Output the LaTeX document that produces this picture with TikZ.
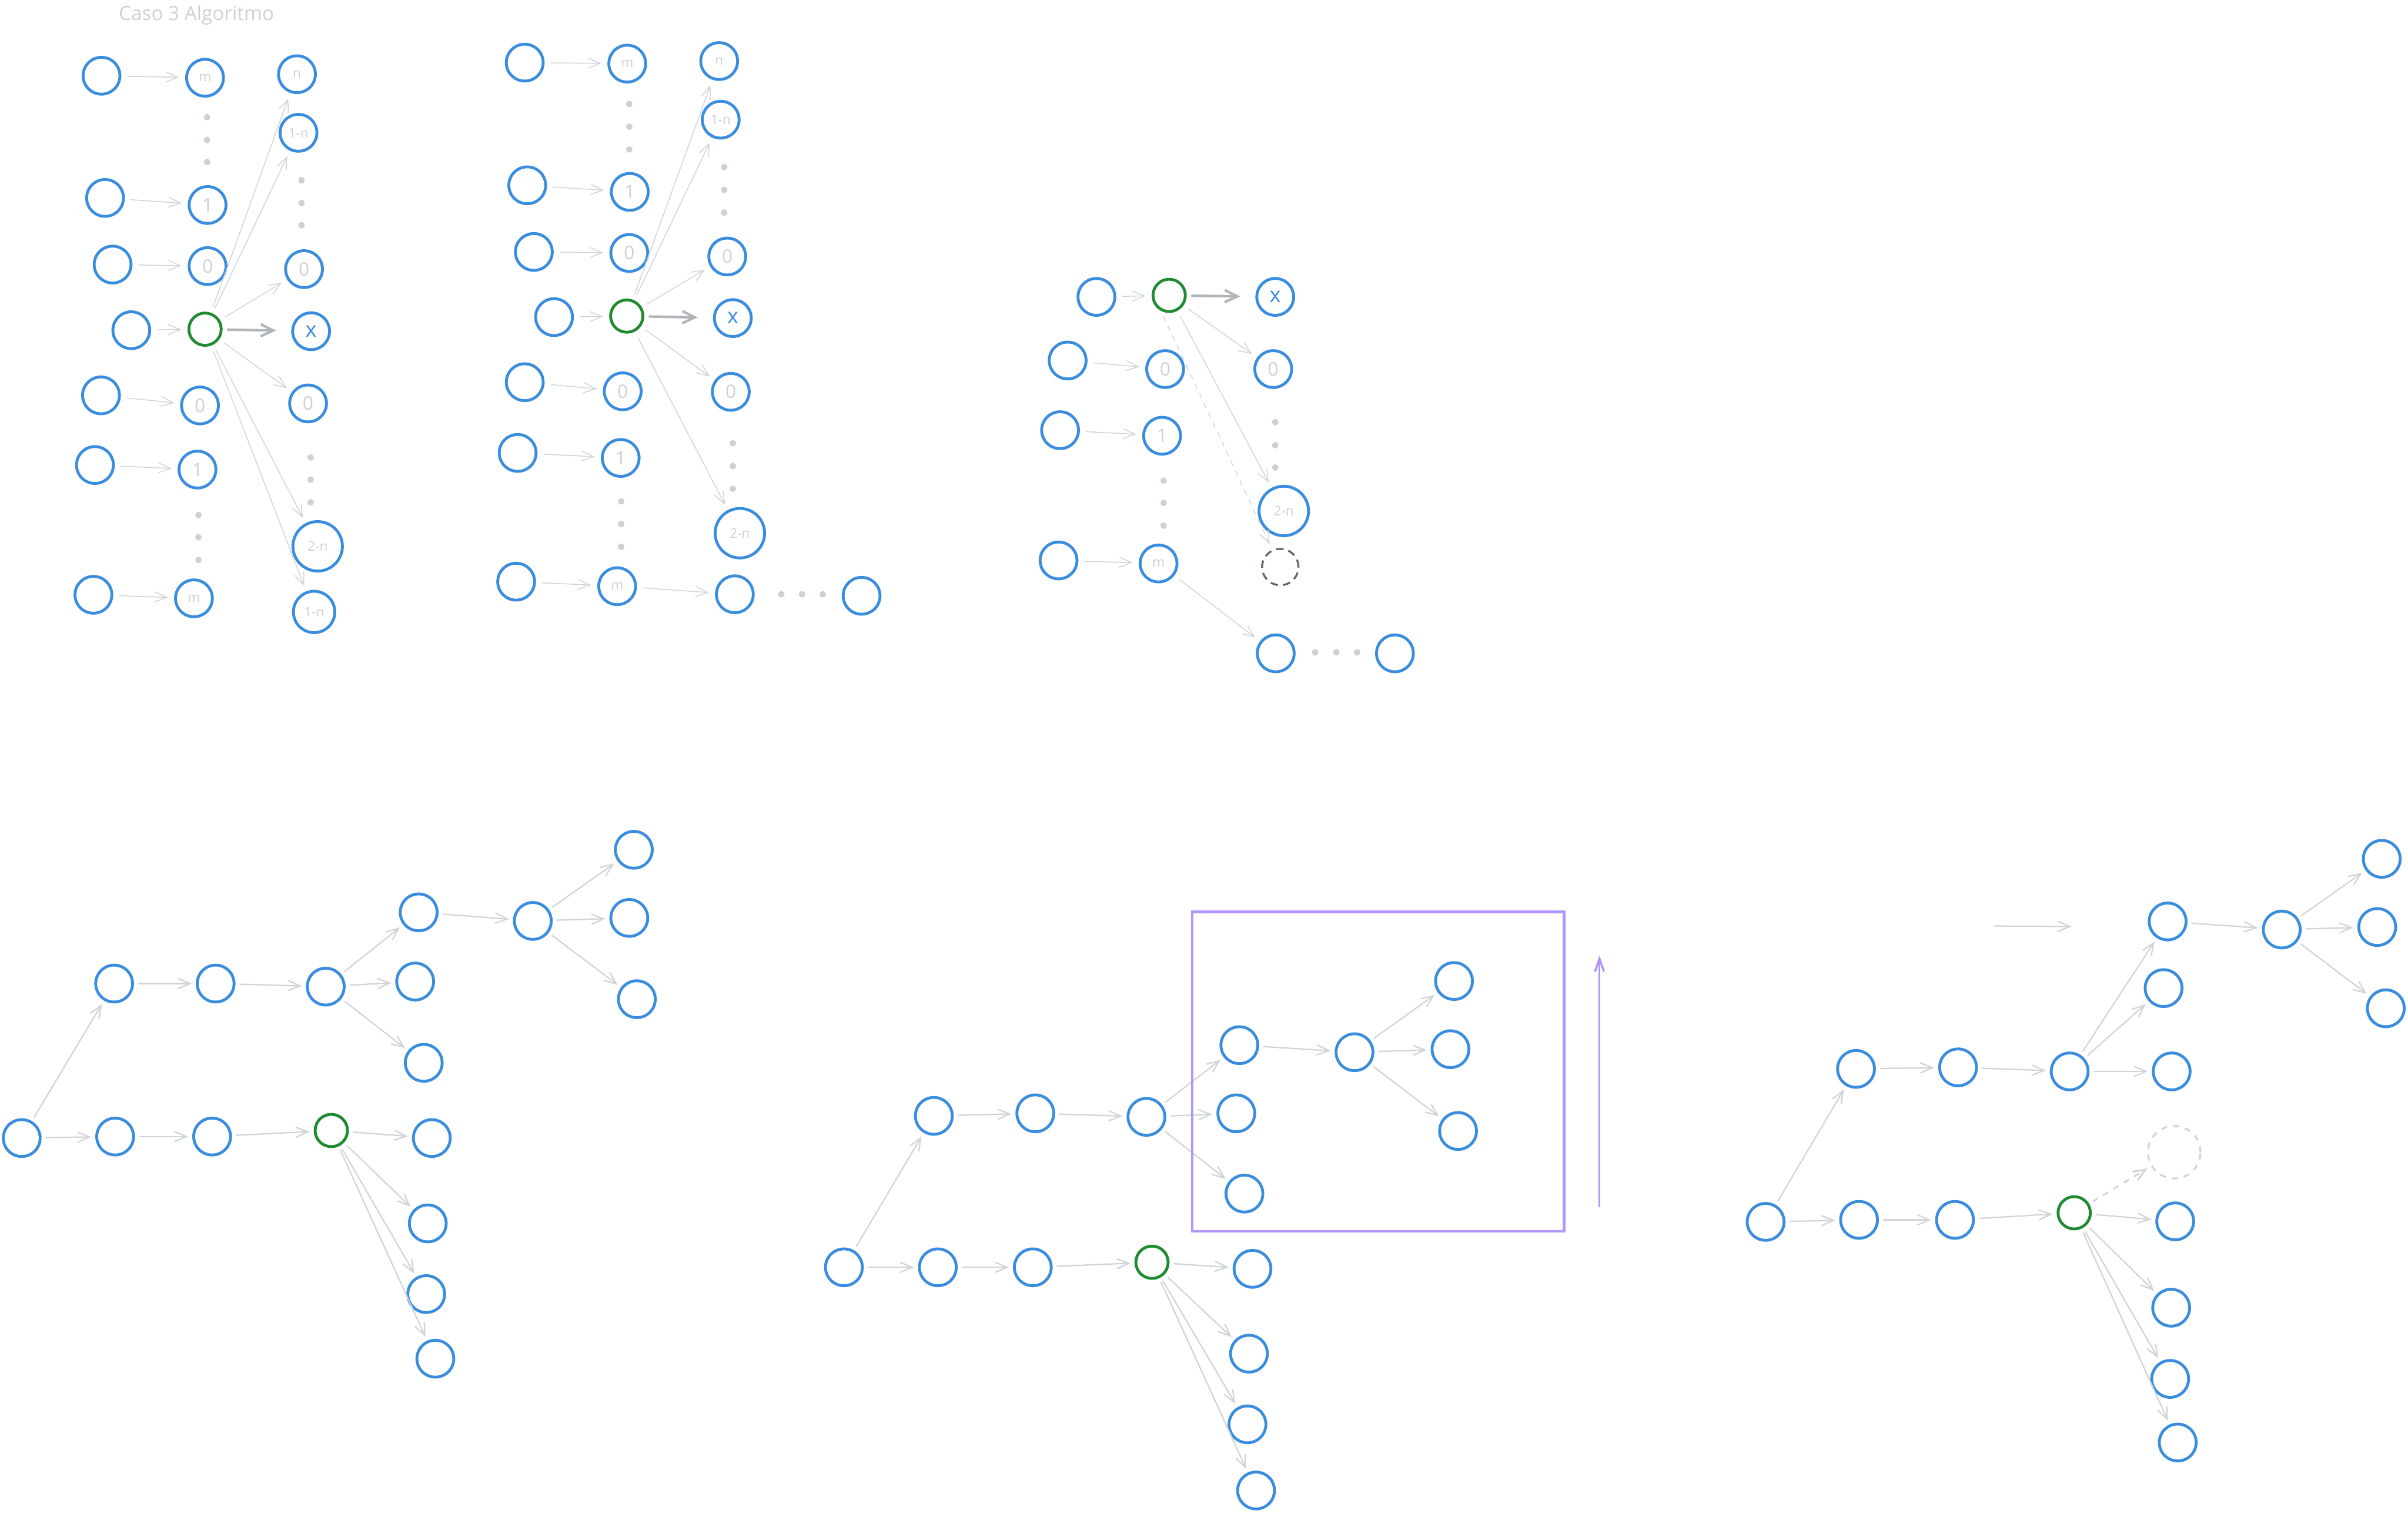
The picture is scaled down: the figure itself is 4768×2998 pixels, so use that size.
\documentclass[tikz,border=0pt]{standalone}
\usepackage{fontspec}
\setmainfont{Open Sans}
\usetikzlibrary{arrows.meta}
\definecolor{cblue}{HTML}{3A8DDE}
\definecolor{cgreen}{HTML}{1F8A2F}
\definecolor{cline}{HTML}{D0D4D8}
\definecolor{ctext}{HTML}{CDD1D5}
\definecolor{cthick}{HTML}{B0B5BA}
\definecolor{cdash}{HTML}{5F666D}
\definecolor{cviolet}{HTML}{B197FC}
\tikzset{
 nd/.style={circle, draw=cblue, line width=1.6pt, minimum size=7.3mm, inner sep=0pt, text=ctext, font=\fontsize{10.5}{12}\selectfont},
 nsm/.style={font=\fontsize{7.5}{9}\selectfont},
 nbig/.style={minimum size=9.8mm},
 nmed/.style={minimum size=8.2mm},
 ngrn/.style={draw=cgreen, minimum size=6.4mm},
 nx/.style={text=cblue, font=\fontsize{12}{14}\selectfont},
 ndash/.style={circle, draw=cdash, dashed, dash pattern=on 1.5mm off 1mm, line width=1.1pt, minimum size=7.2mm, inner sep=0pt},
 ndashl/.style={circle, draw=cline, dash pattern=on 1.2mm off 1.2mm, line width=1.1pt, minimum size=10.4mm, inner sep=0pt},
 ar/.style={draw=cline, line width=0.5pt, -{Straight Barb[length=2.4mm,width=2mm]}, shorten <=1.2mm, shorten >=1.2mm},
 arb/.style={draw=cline, line width=0.75pt, -{Straight Barb[length=2.4mm,width=2mm]}, shorten <=0.8mm, shorten >=0.8mm},
 art/.style={draw=cthick, line width=1.4pt, -{Straight Barb[length=2.5mm,width=2.4mm]}, shorten <=0.9mm, shorten >=3mm},
 dotf/.style={fill=ctext},
}
\begin{document}
\begin{tikzpicture}[x=0.1mm,y=-0.1mm]
\fill[white] (0,0) rectangle (4768,2998);
\useasboundingbox (0,0) rectangle (4768,2998);

% ---------------- Group 1 ----------------
\node[text=ctext, font=\fontsize{11}{13}\selectfont] (title) at (389,30) {Caso 3 Algoritmo};
\node[nd] (g1a1) at (201,150) {};
\node[nd,nsm] (g1b1) at (406,154) {m};
\node[nd,nsm] (g1c1) at (588,147) {n};
\node[nd,nsm] (g1c2) at (591,263) {1-n};
\node[nd] (g1a2) at (208,392) {};
\node[nd] (g1b2) at (411,406) {1};
\node[nd] (g1a3) at (223,524) {};
\node[nd] (g1b3) at (411,527) {0};
\node[nd] (g1c3) at (602,533) {0};
\node[nd] (g1a4) at (260,654) {};
\node[nd,ngrn] (g1g) at (406,652) {};
\node[nd,nx] (g1x) at (616,656) {x};
\node[nd] (g1a5) at (200,783) {};
\node[nd] (g1b5) at (396,803) {0};
\node[nd] (g1c5) at (610,799) {0};
\node[nd] (g1a6) at (188,921) {};
\node[nd] (g1b6) at (391,930) {1};
\node[nd,nsm,nbig] (g1c6) at (629,1082) {2-n};
\node[nd] (g1a7) at (185,1178) {};
\node[nd,nsm] (g1b7) at (384,1185) {m};
\node[nd,nsm,nmed] (g1c7) at (622,1212) {1-n};
\foreach \y in {232,277,321} \fill[dotf] (410,\y) circle (0.65mm);
\foreach \y in {357,402,446} \fill[dotf] (597,\y) circle (0.65mm);
\foreach \y in {1020,1064,1109} \fill[dotf] (393,\y) circle (0.65mm);
\foreach \y in {906,950,995} \fill[dotf] (615,\y) circle (0.65mm);
\draw[ar] (g1a1) -- (g1b1);
\draw[ar] (g1a2) -- (g1b2);
\draw[ar] (g1a3) -- (g1b3);
\draw[ar] (g1a4) -- (g1g);
\draw[ar] (g1a5) -- (g1b5);
\draw[ar] (g1a6) -- (g1b6);
\draw[ar] (g1a7) -- (g1b7);
\draw[art] (g1g) -- (g1x);
\draw[ar] (g1g) -- (g1c1);
\draw[ar] (g1g) -- (g1c2);
\draw[ar] (g1g) -- (g1c3);
\draw[ar] (g1g) -- (g1c5);
\draw[ar] (g1g) -- (g1c6);
\draw[ar] (g1g) -- (g1c7);

% ---------------- Group 2 ----------------
\node[nd] (g2a1) at (1039,124) {};
\node[nd,nsm] (g2b1) at (1242,126) {m};
\node[nd,nsm] (g2c1) at (1424,121) {n};
\node[nd,nsm] (g2c2) at (1427,237) {1-n};
\node[nd] (g2a2) at (1044,367) {};
\node[nd] (g2b2) at (1247,380) {1};
\node[nd] (g2a3) at (1057,499) {};
\node[nd] (g2b3) at (1246,501) {0};
\node[nd] (g2c3) at (1440,508) {0};
\node[nd] (g2a4) at (1097,628) {};
\node[nd,ngrn] (g2g) at (1241,626) {};
\node[nd,nx] (g2x) at (1451,630) {x};
\node[nd] (g2a5) at (1039,757) {};
\node[nd] (g2b5) at (1233,775) {0};
\node[nd] (g2c5) at (1447,776) {0};
\node[nd] (g2a6) at (1025,897) {};
\node[nd] (g2b6) at (1229,907) {1};
\node[nd,nsm,nbig] (g2c6) at (1465,1056) {2-n};
\node[nd] (g2a7) at (1022,1152) {};
\node[nd,nsm] (g2b7) at (1222,1161) {m};
\node[nd] (g2d1) at (1455,1177) {};
\node[nd] (g2d2) at (1706,1180) {};
\foreach \y in {206,251,296} \fill[dotf] (1246,\y) circle (0.65mm);
\foreach \y in {331,376,421} \fill[dotf] (1434,\y) circle (0.65mm);
\foreach \y in {993,1038,1083} \fill[dotf] (1230,\y) circle (0.65mm);
\foreach \y in {878,923,968} \fill[dotf] (1451,\y) circle (0.65mm);
\foreach \x in {1547,1588,1629} \fill[dotf] (\x,1177) circle (0.65mm);
\draw[ar] (g2a1) -- (g2b1);
\draw[ar] (g2a2) -- (g2b2);
\draw[ar] (g2a3) -- (g2b3);
\draw[ar] (g2a4) -- (g2g);
\draw[ar] (g2a5) -- (g2b5);
\draw[ar] (g2a6) -- (g2b6);
\draw[ar] (g2a7) -- (g2b7);
\draw[art] (g2g) -- (g2x);
\draw[ar] (g2g) -- (g2c1);
\draw[ar] (g2g) -- (g2c2);
\draw[ar] (g2g) -- (g2c3);
\draw[ar] (g2g) -- (g2c5);
\draw[ar] (g2g) -- (g2c6);
\draw[ar] (g2b7) -- (g2d1);

% ---------------- Group 3 ----------------
\node[nd] (g3a1) at (2171,588) {};
\node[nd,ngrn] (g3g) at (2315,585) {};
\node[nd,nx] (g3x) at (2525,588) {x};
\node[nd] (g3a2) at (2114,714) {};
\node[nd] (g3b2) at (2307,731) {0};
\node[nd] (g3c2) at (2521,731) {0};
\node[nd] (g3a3) at (2099,852) {};
\node[nd] (g3b3) at (2301,863) {1};
\node[nd,nsm,nbig] (g3c3) at (2542,1012) {2-n};
\node[nd] (g3a4) at (2096,1110) {};
\node[nd,nsm] (g3b4) at (2294,1116) {m};
\node[ndash] (g3dc) at (2535,1123) {};
\node[nd] (g3d1) at (2526,1294) {};
\node[nd] (g3d2) at (2762,1294) {};
\foreach \y in {952,996,1041} \fill[dotf] (2304,\y) circle (0.65mm);
\foreach \y in {836,882,926} \fill[dotf] (2525,\y) circle (0.65mm);
\foreach \x in {2604,2646,2687} \fill[dotf] (\x,1292) circle (0.65mm);
\draw[ar] (g3a1) -- (g3g);
\draw[ar] (g3a2) -- (g3b2);
\draw[ar] (g3a3) -- (g3b3);
\draw[ar] (g3a4) -- (g3b4);
\draw[art] (g3g) -- (g3x);
\draw[ar] (g3g) -- (g3c2);
\draw[ar] (g3g.298) -- (g3c3);
\draw[ar, dashed] (g3g.242) -- (g3dc);
\draw[ar] (g3b4) -- (g3d1);

% ---------------- Group 4 ----------------
\node[nd] (g4s) at (43,2254) {};
\node[nd] (g4p1) at (226,1948) {};
\node[nd] (g4p2) at (427,1948) {};
\node[nd] (g4p3) at (645,1954) {};
\node[nd] (g4q1) at (829,1807) {};
\node[nd] (g4q2) at (822,1944) {};
\node[nd] (g4q3) at (839,2105) {};
\node[nd] (g4r) at (1055,1824) {};
\node[nd] (g4t1) at (1255,1683) {};
\node[nd] (g4t2) at (1246,1818) {};
\node[nd] (g4t3) at (1261,1979) {};
\node[nd] (g4l1) at (228,2251) {};
\node[nd] (g4l2) at (420,2251) {};
\node[nd,ngrn] (g4g) at (656,2239) {};
\node[nd] (g4h1) at (855,2254) {};
\node[nd] (g4h2) at (847,2423) {};
\node[nd] (g4h3) at (844,2563) {};
\node[nd] (g4h4) at (862,2691) {};
\draw[arb] (g4s) -- (g4p1);
\draw[arb] (g4p1) -- (g4p2);
\draw[arb] (g4p2) -- (g4p3);
\draw[arb] (g4p3) -- (g4q1);
\draw[arb] (g4p3) -- (g4q2);
\draw[arb] (g4p3) -- (g4q3);
\draw[arb] (g4q1) -- (g4r);
\draw[arb] (g4r) -- (g4t1);
\draw[arb] (g4r) -- (g4t2);
\draw[arb] (g4r) -- (g4t3);
\draw[arb] (g4s) -- (g4l1);
\draw[arb] (g4l1) -- (g4l2);
\draw[arb] (g4l2) -- (g4g);
\draw[arb] (g4g) -- (g4h1);
\draw[arb] (g4g) -- (g4h2);
\draw[arb] (g4g) -- (g4h3);
\draw[arb] (g4g) -- (g4h4);

% ---------------- Group 5 ----------------
\node[nd] (g5s) at (1671,2510) {};
\node[nd] (g5p1) at (1849,2210) {};
\node[nd] (g5p2) at (2050,2205) {};
\node[nd] (g5p3) at (2270,2212) {};
\node[nd] (g5q1) at (2454,2070) {};
\node[nd] (g5q2) at (2448,2205) {};
\node[nd] (g5q3) at (2464,2364) {};
\node[nd] (g5r) at (2682,2084) {};
\node[nd] (g5t1) at (2879,1943) {};
\node[nd] (g5t2) at (2872,2078) {};
\node[nd] (g5t3) at (2887,2240) {};
\node[nd] (g5l1) at (1857,2510) {};
\node[nd] (g5l2) at (2045,2510) {};
\node[nd,ngrn] (g5g) at (2281,2500) {};
\node[nd] (g5h1) at (2480,2513) {};
\node[nd] (g5h2) at (2473,2681) {};
\node[nd] (g5h3) at (2470,2821) {};
\node[nd] (g5h4) at (2487,2952) {};
\draw[arb] (g5s) -- (g5p1);
\draw[arb] (g5p1) -- (g5p2);
\draw[arb] (g5p2) -- (g5p3);
\draw[arb] (g5p3) -- (g5q1);
\draw[arb] (g5p3) -- (g5q2);
\draw[arb] (g5p3) -- (g5q3);
\draw[arb] (g5q1) -- (g5r);
\draw[arb] (g5r) -- (g5t1);
\draw[arb] (g5r) -- (g5t2);
\draw[arb] (g5r) -- (g5t3);
\draw[arb] (g5s) -- (g5l1);
\draw[arb] (g5l1) -- (g5l2);
\draw[arb] (g5l2) -- (g5g);
\draw[arb] (g5g) -- (g5h1);
\draw[arb] (g5g) -- (g5h2);
\draw[arb] (g5g) -- (g5h3);
\draw[arb] (g5g) -- (g5h4);
\draw[cviolet, line width=1.4pt] (2361,1806) rectangle (3097,2439);
\coordinate (pa1) at (3167,2391);
\coordinate (pa2) at (3167,1892);
\draw[cviolet, line width=1.2pt, -{Straight Barb[length=2.6mm,width=1.8mm]}] (pa1) -- (pa2);

% ---------------- Group 6 ----------------
\node[nd] (g6s) at (3496,2420) {};
\node[nd] (g6p1) at (3675,2117) {};
\node[nd] (g6p2) at (3877,2114) {};
\node[nd] (g6p3) at (4098,2122) {};
\node[nd] (g6q1) at (4292,1825) {};
\node[nd] (g6q2) at (4284,1957) {};
\node[nd] (g6q3) at (4300,2122) {};
\node[nd] (g6r) at (4518,1841) {};
\node[nd] (g6t1) at (4716,1701) {};
\node[nd] (g6t2) at (4707,1836) {};
\node[nd] (g6t3) at (4724,1997) {};
\node[nd] (g6l1) at (3681,2416) {};
\node[nd] (g6l2) at (3871,2416) {};
\node[nd,ngrn] (g6g) at (4107,2402) {};
\node[ndashl] (g6dc) at (4305,2282) {};
\node[nd] (g6h1) at (4307,2419) {};
\node[nd] (g6h2) at (4299,2590) {};
\node[nd] (g6h3) at (4297,2731) {};
\node[nd] (g6h4) at (4312,2857) {};
\draw[arb] (g6s) -- (g6p1);
\draw[arb] (g6p1) -- (g6p2);
\draw[arb] (g6p2) -- (g6p3);
\draw[arb] (g6p3) -- (g6q1);
\draw[arb] (g6p3) -- (g6q2);
\draw[arb] (g6p3) -- (g6q3);
\draw[arb] (g6q1) -- (g6r);
\draw[arb] (g6r) -- (g6t1);
\draw[arb] (g6r) -- (g6t2);
\draw[arb] (g6r) -- (g6t3);
\draw[arb] (g6s) -- (g6l1);
\draw[arb] (g6l1) -- (g6l2);
\draw[arb] (g6l2) -- (g6g);
\draw[arb] (g6g) -- (g6h1);
\draw[arb] (g6g) -- (g6h2);
\draw[arb] (g6g) -- (g6h3);
\draw[arb] (g6g) -- (g6h4);
\draw[arb, line width=1pt, dash pattern=on 1.2mm off 1.2mm] (g6g) -- (g6dc);
\coordinate (fa1) at (3948,1834);
\coordinate (fa2) at (4102,1835);
\draw[arb, shorten <=0mm, shorten >=0mm] (fa1) -- (fa2);
\end{tikzpicture}
\end{document}
